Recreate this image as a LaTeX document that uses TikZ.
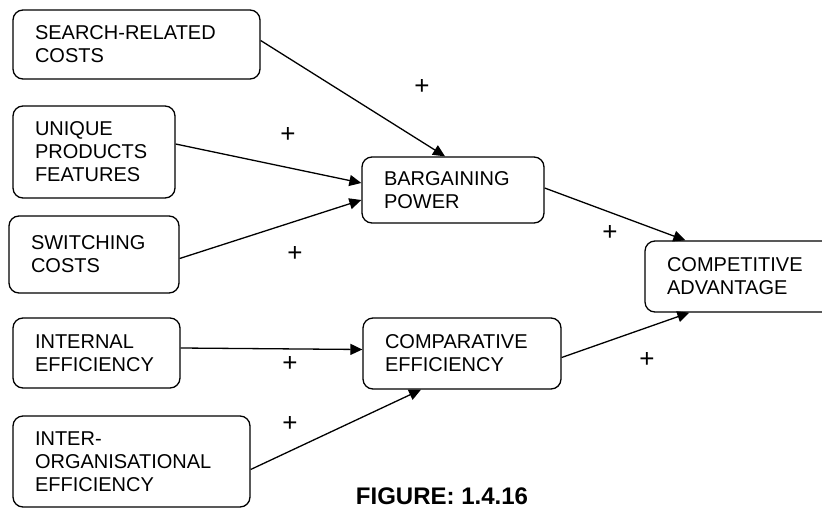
\documentclass[tikz,border=0pt]{standalone}
\usepackage{fontspec}
\setmainfont{Liberation Sans}
\usetikzlibrary{arrows.meta,positioning}

\begin{document}
\begin{tikzpicture}[x=0.5pt,y=-0.5pt,
  factor/.style={draw,line width=0.65pt,rounded corners=5pt,align=left,
    inner xsep=11pt,inner ysep=0pt,font=\fontsize{10}{11.5}\selectfont},
  link/.style={-{Triangle[length=6pt,width=5.5pt]},line width=0.65pt},
  plus/.style={font=\fontsize{13}{14}\selectfont,inner sep=0pt}]
  \clip (0,0) rectangle (822,508);

  % left column
  \node[factor,minimum width=123.5pt,minimum height=34.5pt,text width=101.5pt] (search) at (136.5,44.5) {SEARCH-RELATED\\COSTS};
  \node[factor,minimum width=81pt,minimum height=46pt,text width=59pt] (unique) at (94,152) {UNIQUE\\PRODUCTS\\FEATURES};
  \node[factor,minimum width=85pt,minimum height=38.5pt,text width=63pt] (switching) at (94,254.5) {SWITCHING\\COSTS};
  \node[factor,minimum width=83.5pt,minimum height=35pt,text width=61.5pt] (internal) at (96.5,353) {INTERNAL\\EFFICIENCY};
  \node[factor,minimum width=118.5pt,minimum height=45.5pt,text width=96.5pt] (interorg) at (131.5,461.5) {INTER-\\ORGANISATIONAL\\EFFICIENCY};

  % middle and right
  \node[factor,minimum width=91pt,minimum height=33pt,text width=69pt] (bargaining) at (453,190) {BARGAINING\\POWER};
  \node[factor,minimum width=99pt,minimum height=35.5pt,text width=77pt] (comparative) at (462,353.5) {COMPARATIVE\\EFFICIENCY};
  \node[factor,minimum width=97.5pt,minimum height=35.5pt,text width=75.5pt] (competitive) at (742.5,276.5) {COMPETITIVE\\ADVANTAGE};

  \draw[link] ([yshift=2pt]search.east) -- ([xshift=-4pt]bargaining.north);
  \draw[link] ([yshift=4pt]unique.east) -- ([yshift=3.5pt]bargaining.west);
  \draw[link] ([yshift=-2pt]switching.east) -- ([yshift=-5pt]bargaining.west);
  \draw[link] ([yshift=2.5pt]internal.east) -- ([yshift=2pt]comparative.west);
  \draw[link] ([yshift=-4pt]interorg.east) -- ([xshift=-20.5pt]comparative.south);
  \draw[link] ([yshift=1pt]bargaining.east) -- ([xshift=20.5pt]competitive.north west);
  \draw[link] ([yshift=-2pt]comparative.east) -- ([xshift=22.5pt]competitive.south west);

  \node[plus] (p1) at (422,87) {+};
  \node[plus] (p2) at (288,135) {+};
  \node[plus] (p3) at (295,254) {+};
  \node[plus] (p4) at (290,364) {+};
  \node[plus] (p5) at (290,424) {+};
  \node[plus] (p6) at (610,233) {+};
  \node[plus] (p7) at (647,360) {+};

  \node[font=\fontsize{12}{14}\selectfont\bfseries] (caption) at (442,496.5) {FIGURE: 1.4.16};
\end{tikzpicture}
\end{document}
